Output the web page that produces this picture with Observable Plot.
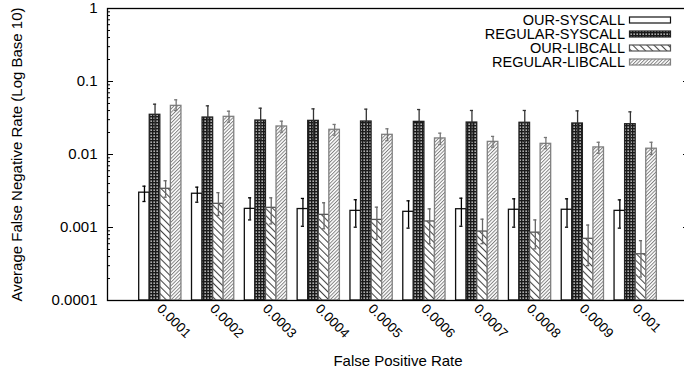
<!DOCTYPE html>
<html><head><meta charset="utf-8">
<script src="https://cdn.jsdelivr.net/npm/d3@7"></script>
<script src="https://cdn.jsdelivr.net/npm/@observablehq/plot@0.6"></script>
<style>
html,body{margin:0;padding:0;background:#fff;overflow:hidden;}
#chart svg{overflow:hidden;display:block;}
</style></head><body><div id="chart"></div>
<script>
const categories = ["0.0001","0.0002","0.0003","0.0004","0.0005","0.0006","0.0007","0.0008","0.0009","0.001"];
const series = ["OUR-SYSCALL","REGULAR-SYSCALL","OUR-LIBCALL","REGULAR-LIBCALL"];

const ourSyscall     = [0.0030, 0.0029, 0.0018, 0.00179, 0.00169, 0.00164, 0.00178, 0.00175, 0.00175, 0.00169];
const ourSyscallHi   = [0.00368, 0.00357, 0.00255, 0.00250, 0.00240, 0.00232, 0.00252, 0.00247, 0.00247, 0.00239];
const ourSyscallLo   = [0.00227, 0.00222, 0.00127, 0.00104, 0.00101, 0.00098, 0.00104, 0.00101, 0.00101, 0.00098];

const regularSyscall   = [0.035, 0.0321, 0.0292, 0.0289, 0.0283, 0.028, 0.0274, 0.0272, 0.0266, 0.026];
const regularSyscallHi = [0.0489, 0.0464, 0.0431, 0.0422, 0.0418, 0.0413, 0.0401, 0.0401, 0.0396, 0.0384];
const regularSyscallLo = [0.022, 0.018, 0.016, 0.016, 0.015, 0.015, 0.015, 0.015, 0.014, 0.014];

const ourLibcall   = [0.00339, 0.00211, 0.00186, 0.00149, 0.00127, 0.00121, 0.00088, 0.00085, 0.0007, 0.00043];
const ourLibcallHi = [0.00437, 0.0030, 0.00255, 0.00218, 0.0019, 0.0018, 0.0013, 0.00127, 0.00108, 0.00066];
const ourLibcallLo = [0.0026, 0.00146, 0.00112, 0.00096, 0.00069, 0.0006, 0.0006, 0.00051, 0.0003, 0.00021];

const regularLibcall   = [0.0464, 0.0328, 0.0242, 0.0218, 0.0186, 0.0166, 0.0149, 0.014, 0.0125, 0.012];
const regularLibcallHi = [0.0561, 0.0392, 0.0286, 0.0258, 0.0225, 0.0196, 0.0177, 0.0171, 0.0147, 0.0147];
const regularLibcallLo = [0.0401, 0.0277, 0.0202, 0.0184, 0.0155, 0.0137, 0.0126, 0.012, 0.0104, 0.010];

const yTickValues = [0.0001, 0.001, 0.01, 0.1, 1];
const yTickLabels = ["0.0001", "0.001", "0.01", "0.1", "1"];

const values = [ourSyscall, regularSyscall, ourLibcall, regularLibcall];
const highs  = [ourSyscallHi, regularSyscallHi, ourLibcallHi, regularLibcallHi];
const lows   = [ourSyscallLo, regularSyscallLo, ourLibcallLo, regularLibcallLo];

const fills   = ["#fff", "url(#pCheck)", "url(#pBack)", "url(#pFwd)"];
const strokes = ["#111", "#222", "#555", "#808080"];
const errStroke = ["#000", "#333", "#666", "#777"];

const barW = 0.2;
const rows = [];
categories.forEach((c, i) => series.forEach((s, k) => {
  const xc = i + (k - 1.5) * barW;
  rows.push({i, k, series: s, xc, x1: xc - barW / 2, x2: xc + barW / 2,
             value: values[k][i], hi: highs[k][i], lo: lows[k][i]});
}));

const minorTicks = [];
for (let e = -4; e < 0; e++) for (let m = 2; m <= 9; m++) minorTicks.push(m * Math.pow(10, e));

const font = "'Liberation Sans', Arial, Helvetica, sans-serif";

const barMarks = series.map((s, k) => Plot.rect(rows.filter(d => d.k === k), {
  x1: "x1", x2: "x2", y1: 0.0001, y2: "value",
  fill: fills[k], stroke: strokes[k], strokeWidth: 1.3
}));
const errMarks = series.flatMap((s, k) => {
  const r = rows.filter(d => d.k === k);
  return [
    Plot.ruleX(r, {x: "xc", y1: "lo", y2: "hi", stroke: errStroke[k], strokeWidth: 1.3}),
    Plot.ruleY(r, {y: "hi", x1: d => d.xc - 0.03, x2: d => d.xc + 0.03, stroke: errStroke[k], strokeWidth: 1.3}),
    Plot.ruleY(r, {y: "lo", x1: d => d.xc - 0.03, x2: d => d.xc + 0.03, stroke: errStroke[k], strokeWidth: 1.3})
  ];
});

const plot = Plot.plot({
  width: 684, height: 372,
  marginLeft: 107, marginRight: -4, marginTop: 8, marginBottom: 72,
  style: {fontFamily: font, fontSize: "15px", color: "#000", background: "#fff", overflow: "hidden"},
  x: {type: "linear", domain: [-1, 10], axis: null},
  y: {type: "log", domain: [0.0001, 1], axis: null},
  marks: [
    ...barMarks,
    ...errMarks,
    Plot.axisY({anchor: "left", ticks: minorTicks, tickSize: -3, tickFormat: () => "", strokeWidth: 1}),
    Plot.axisY({anchor: "left", ticks: yTickValues, tickSize: -6, tickPadding: 16,
      tickFormat: d => yTickLabels[yTickValues.indexOf(d)], fontSize: 15,
      label: "Average False Negative Rate (Log Base 10)", labelAnchor: "center", labelOffset: 96, labelArrow: "none"}),
    Plot.axisY({anchor: "right", ticks: yTickValues, tickSize: -6, tickFormat: () => ""}),
    Plot.axisY({anchor: "right", ticks: minorTicks, tickSize: -3, tickFormat: () => ""}),
    Plot.frame({stroke: "#000", strokeWidth: 1.3}),
    Plot.text(categories, {x: (d, i) => i, frameAnchor: "bottom", rotate: 45, textAnchor: "start", dx: -4, dy: 9, fontSize: 13.5}),
    Plot.text(["False Positive Rate"], {frameAnchor: "bottom", dy: 65, fontSize: 15})
  ]
});

const svg = d3.select(plot);
const defs = svg.insert("defs", ":first-child");
// checkered (REGULAR-SYSCALL)
const pc = defs.append("pattern").attr("id", "pCheck").attr("patternUnits", "userSpaceOnUse").attr("width", 3).attr("height", 3);
pc.append("rect").attr("width", 3).attr("height", 3).attr("fill", "#1a1a1a");
pc.append("rect").attr("x", 0.5).attr("y", 0.5).attr("width", 1.3).attr("height", 1.3).attr("fill", "#fff");
// backslash lines (OUR-LIBCALL)
const pb = defs.append("pattern").attr("id", "pBack").attr("patternUnits", "userSpaceOnUse").attr("width", 5).attr("height", 5).attr("patternTransform", "rotate(-45)");
pb.append("rect").attr("width", 5).attr("height", 5).attr("fill", "#fff");
pb.append("line").attr("x1", 0.5).attr("y1", 0).attr("x2", 0.5).attr("y2", 5).attr("stroke", "#444").attr("stroke-width", 1.1);
// forward slash lines (REGULAR-LIBCALL)
const pf = defs.append("pattern").attr("id", "pFwd").attr("patternUnits", "userSpaceOnUse").attr("width", 2.5).attr("height", 2.5).attr("patternTransform", "rotate(45)");
pf.append("rect").attr("width", 2.5).attr("height", 2.5).attr("fill", "#fff");
pf.append("line").attr("x1", 0.5).attr("y1", 0).attr("x2", 0.5).attr("y2", 2.5).attr("stroke", "#777").attr("stroke-width", 0.9);

// legend (top-right, inside frame)
const lg = svg.append("g").attr("font-family", font).attr("font-size", 14.5);
series.forEach((s, k) => {
  const cy = 20 + 14 * k;
  lg.append("text").attr("x", 625).attr("y", cy).attr("dy", "0.35em").attr("text-anchor", "end").text(s);
  lg.append("rect").attr("x", 629.5).attr("y", cy - 3).attr("width", 41).attr("height", 6)
    .attr("fill", fills[k]).attr("stroke", strokes[k]).attr("stroke-width", 1.2);
});

document.getElementById("chart").appendChild(plot);
</script></body></html>
